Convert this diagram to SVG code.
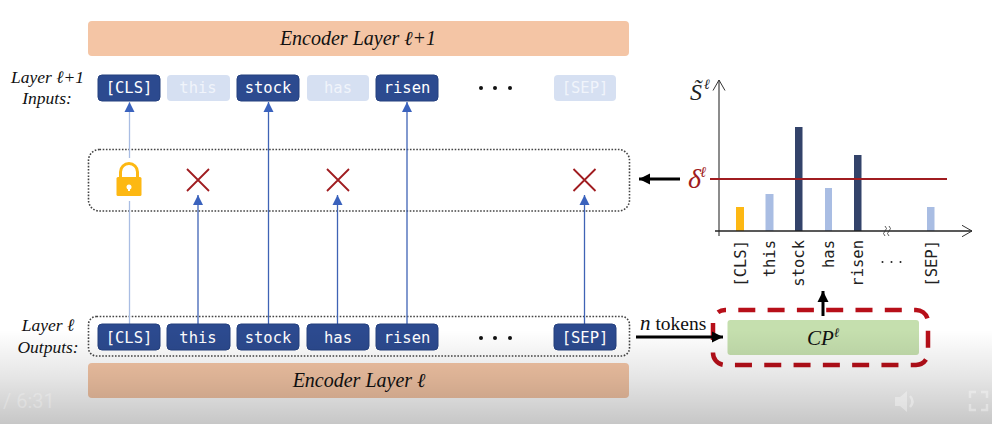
<svg xmlns="http://www.w3.org/2000/svg" width="992" height="424" viewBox="0 0 992 424">
<style>
.serif{font-family:"Liberation Serif","DejaVu Serif",serif;font-style:italic;fill:#111}
.enc{font-size:20px;text-anchor:middle}
.lab{font-size:17.500px;text-anchor:middle}
.tok rect{fill:#2c4a8f;stroke:#24407f;stroke-width:1}
.tok text,.ftok text{font-family:"DejaVu Sans Mono","Liberation Mono",monospace;font-size:15.500px;text-anchor:middle;fill:#fff;font-weight:500}
.ftok rect{fill:#d6e0f2}
.ftok text{fill:#f0f4fb}
.dot{fill:none;stroke:#444;stroke-width:1.6;stroke-dasharray:1.6 1.6}
.conn{stroke:#3f63b5;stroke-width:1.3;fill:none}
.pale{stroke:#a9bde3}
.x{stroke:#a01c20;stroke-width:1.8;fill:none}
.bold{stroke:#000;stroke-width:3;fill:none}
.ax{stroke:#222;stroke-width:1.4;fill:none}
.rot{font-family:"DejaVu Sans Mono","Liberation Mono",monospace;font-size:15.500px;fill:#222;text-anchor:end}
.d{fill:#111}
</style>
<defs>
<marker id="b" markerUnits="userSpaceOnUse" markerWidth="11" markerHeight="11" refX="10" refY="5.500" orient="auto"><path d="M0,0.500L10,5.500L0,10.500Z" fill="#3a62bd"/></marker>
<marker id="k" markerUnits="userSpaceOnUse" markerWidth="12" markerHeight="12" refX="11" refY="6" orient="auto"><path d="M0,0.500L11,6L0,11.500Z" fill="#000"/></marker>
<marker id="o" markerUnits="userSpaceOnUse" markerWidth="12" markerHeight="14" refX="10.500" refY="7" orient="auto"><path d="M0,1L10.500,7L0,13" fill="none" stroke="#333" stroke-width="1"/></marker>
<linearGradient id="sh" x1="0" y1="0" x2="0" y2="1"><stop offset="0" stop-color="#000" stop-opacity="0"/><stop offset="0.5" stop-color="#000" stop-opacity=".1"/><stop offset="1" stop-color="#000" stop-opacity=".22"/></linearGradient>
</defs>
<rect width="992" height="424" fill="#fff"/>

<g id="encoder-top"><rect x="88" y="21" width="541" height="35" rx="4" fill="#f4c5a5"/><text class="serif enc" x="358" y="45">Encoder Layer ℓ+1</text></g>
<g id="encoder-bottom"><rect x="88" y="363" width="541" height="35" rx="4" fill="#f4c5a5"/><text class="serif enc" x="359" y="387">Encoder Layer ℓ</text></g>
<g id="label-inputs"><text class="serif lab" x="47.500" y="83">Layer ℓ+1</text><text class="serif lab" x="47" y="104">Inputs:</text></g>
<g id="label-outputs"><text class="serif lab" x="48" y="331">Layer ℓ</text><text class="serif lab" x="48" y="353">Outputs:</text></g>

<g id="filter-box"><rect class="dot" x="88.500" y="149.500" width="541" height="61.500" rx="11"/></g>
<g id="output-box"><rect class="dot" x="88.500" y="316.500" width="541" height="39.500" rx="8"/></g>

<g id="connectors">
<path class="conn pale" d="M129.500 158V102" marker-end="url(#b)"/>
<path class="conn pale" d="M129.500 324V201"/>
<path class="conn" d="M198 324V195" marker-end="url(#b)"/>
<path class="conn" d="M268.500 324V102" marker-end="url(#b)"/>
<path class="conn" d="M337.500 324V195" marker-end="url(#b)"/>
<path class="conn" d="M407 324V102" marker-end="url(#b)"/>
<path class="conn" d="M584.500 324V195" marker-end="url(#b)"/>
<path class="bold" d="M680 179H639" marker-end="url(#k)"/>
</g>

<g id="top-cls" class="tok"><rect x="98" y="75" width="62" height="26" rx="4"/><text x="129" y="93">[CLS]</text></g>
<g id="top-this" class="ftok"><rect x="167" y="75" width="63" height="26" rx="4"/><text x="198" y="93">this</text></g>
<g id="top-stock" class="tok"><rect x="237" y="75" width="62" height="26" rx="4"/><text x="268" y="93">stock</text></g>
<g id="top-has" class="ftok"><rect x="307" y="75" width="62" height="26" rx="4"/><text x="338" y="93">has</text></g>
<g id="top-risen" class="tok"><rect x="376" y="75" width="62" height="26" rx="4"/><text x="407" y="93">risen</text></g>
<g id="top-dots"><circle class="d" cx="481" cy="88" r="2"/><circle class="d" cx="495" cy="88" r="2"/><circle class="d" cx="510" cy="88" r="2"/></g>
<g id="top-sep" class="ftok"><rect x="554" y="75" width="62" height="26" rx="4"/><text x="585" y="93">[SEP]</text></g>

<g id="bot-cls" class="tok"><rect x="98" y="324" width="62" height="26" rx="4"/><text x="129" y="343">[CLS]</text></g>
<g id="bot-this" class="tok"><rect x="167" y="324" width="63" height="26" rx="4"/><text x="198" y="343">this</text></g>
<g id="bot-stock" class="tok"><rect x="237" y="324" width="62" height="26" rx="4"/><text x="268" y="343">stock</text></g>
<g id="bot-has" class="tok"><rect x="307" y="324" width="62" height="26" rx="4"/><text x="338" y="343">has</text></g>
<g id="bot-risen" class="tok"><rect x="376" y="324" width="62" height="26" rx="4"/><text x="407" y="343">risen</text></g>
<g id="bot-dots"><circle class="d" cx="481" cy="338" r="2"/><circle class="d" cx="495" cy="338" r="2"/><circle class="d" cx="510" cy="338" r="2"/></g>
<g id="bot-sep" class="tok"><rect x="554" y="324" width="62" height="26" rx="4"/><text x="585" y="343">[SEP]</text></g>

<g id="lock"><path d="M120.500 178v-6a8.500 8.500 0 0 1 17 0v6" fill="none" stroke="#fdb813" stroke-width="3"/><rect x="116.500" y="177" width="25" height="19" rx="1.500" fill="#fdb813"/><circle cx="129" cy="187" r="2.500" fill="#fff"/><rect x="128" y="187" width="2" height="4" fill="#fff"/></g>
<g id="x-this"><path class="x" d="M187 169L209 191M209 169L187 191"/></g>
<g id="x-has"><path class="x" d="M327 169L349 191M349 169L327 191"/></g>
<g id="x-sep"><path class="x" d="M573.500 169L595.500 191M595.500 169L573.500 191"/></g>

<g id="chart">
<rect x="736" y="207" width="8" height="24" fill="#fdb813"/>
<rect x="765.500" y="194" width="8" height="37" fill="#a9bde3"/>
<rect x="795" y="127" width="7.500" height="104" fill="#33436a"/>
<rect x="825" y="188" width="7" height="43" fill="#a9bde3"/>
<rect x="854" y="155" width="7.500" height="76" fill="#33436a"/>
<rect x="927" y="207" width="7.500" height="24" fill="#a9bde3"/>
<path d="M719 236V80" fill="none" stroke="#666" stroke-width="1.500" marker-end="url(#o)"/>
<path class="ax" d="M715 231H972" marker-end="url(#o)"/>
<path d="M710 179H947" stroke="#a01c20" stroke-width="2" fill="none"/>
<path d="M885 226q3 2.500 0 5t0 5M889 226q3 2.500 0 5t0 5" fill="none" stroke="#333" stroke-width=".8"/>
<text class="rot" transform="translate(746 240) rotate(-90)">[CLS]</text>
<text class="rot" transform="translate(775 240) rotate(-90)">this</text>
<text class="rot" transform="translate(804 240) rotate(-90)">stock</text>
<text class="rot" transform="translate(834 240) rotate(-90)">has</text>
<text class="rot" transform="translate(863 240) rotate(-90)">risen</text>
<text class="rot" transform="translate(937 240) rotate(-90)">[SEP]</text>
<circle cx="882.500" cy="262" r="1" fill="#222"/><circle cx="891.500" cy="262" r="1" fill="#222"/><circle cx="900.500" cy="262" r="1" fill="#222"/>
<text x="690" y="100" font-family="Liberation Serif,serif" font-style="italic" font-size="24" fill="#222">S̃</text>
<text x="704" y="89" font-family="Liberation Serif,serif" font-style="italic" font-size="14" fill="#222">ℓ</text>
<text x="688" y="188" font-family="Liberation Serif,serif" font-style="italic" font-size="28" fill="#a01c20">δ</text>
<text x="700" y="177" font-family="Liberation Serif,serif" font-style="italic" font-size="15" fill="#a01c20">ℓ</text>
</g>

<g id="cp-node">
<rect x="713" y="310" width="215" height="55" rx="12" fill="none" stroke="#b70f19" stroke-width="4.500" stroke-dasharray="17 12.300" stroke-dashoffset="16"/>
<rect x="727.500" y="320" width="191.500" height="35" rx="3" fill="#c5dfae"/>
<text x="807" y="345" font-family="Liberation Serif,serif" font-style="italic" font-size="21" fill="#111">CP</text>
<text x="834" y="337" font-family="Liberation Serif,serif" font-style="italic" font-size="13" fill="#111">ℓ</text>
</g>
<g id="cp-links">
<path class="bold" d="M636 337H723" marker-end="url(#k)"/>
<path class="bold" d="M823 316V291" marker-end="url(#k)"/>
</g>
<g id="n-tokens"><text x="640" y="330" font-family="Liberation Serif,serif" font-size="19.500" fill="#111"><tspan font-style="italic" font-size="21">n</tspan> tokens</text></g>

<rect id="shade" x="0" y="330" width="992" height="94" fill="url(#sh)"/>
<text id="player-time" x="3" y="408" font-family="Roboto,sans-serif" font-size="20" fill="#fff" fill-opacity=".25">/ 6:31</text>
<g id="player-icons" fill="#fff" fill-opacity=".35" stroke-opacity=".35">
<path d="M895 397h5l7-6v21l-7-6h-5z"/>
<path d="M910 396q5 5.500 0 11" fill="none" stroke="#fff" stroke-width="2.500"/>
<path d="M970 398v-6h6M981 392h6v6M987 404v6h-6M976 410h-6v-6" fill="none" stroke="#fff" stroke-width="2.500"/>
</g>
</svg>
